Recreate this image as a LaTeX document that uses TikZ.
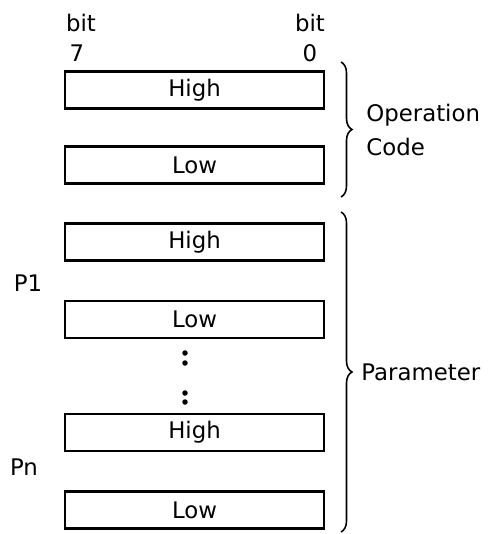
\documentclass[tikz,border=0pt]{standalone}
\usepackage{fontspec}
\setmainfont{DejaVu Sans}
\usetikzlibrary{positioning,decorations.pathreplacing}

\begin{document}
\begin{tikzpicture}[x=0.02cm, y=-0.02cm,
      font=\fontsize{13}{15}\selectfont,
      reg/.style={rectangle, draw, line width=1.4pt, minimum width=5.18cm,
      minimum height=0.74cm, inner sep=0pt},
      dotmark/.style={circle, fill, inner sep=0pt, minimum size=0.11cm},
      grp/.style={decorate, decoration={brace, amplitude=0.22cm}, line width=0.9pt},
      lbl/.style={anchor=west, align=left, inner sep=0pt,
      font=\fontsize{13}{19}\selectfont},
    ]
    \useasboundingbox (0,0) rectangle (487,534);

    % bit numbering
    \node (bitl) at (81,23) {bit};
    \node (bitr) at (310,23) {bit};
    \node (b7) at (77,53) {7};
    \node (b0) at (310,53) {0};

    % operation code bytes
    \node[reg] (oph) at (194.5,90) {High};
    \node[reg] (opl) at (194.5,165) {Low};

    % parameter bytes
    \node[reg] (p1h) at (194.5,242) {High};
    \node[reg] (p1l) at (194.5,319.5) {Low};
    \node[dotmark] (d1) at (185,353) {};
    \node[dotmark] (d2) at (185,363) {};
    \node[dotmark] (d3) at (185,393) {};
    \node[dotmark] (d4) at (185,402) {};
    \node[reg] (pnh) at (194.5,432.5) {High};
    \node[reg] (pnl) at (194.5,510) {Low};

    \node (p1) at (28,283) {P1};
    \node (pn) at (24,467) {Pn};

    % braces
    \coordinate (optop) at (341,62);
    \coordinate (opbot) at (341,197);
    \coordinate (partop) at (341,212);
    \coordinate (parbot) at (341,532);
    \draw[grp] (optop) -- (opbot);
    \draw[grp] (partop) -- (parbot);
    \node[lbl] (opcode) at (366,130) {Operation\\Code};
    \node[lbl] (param) at (361,372) {Parameter};
  \end{tikzpicture}
\end{document}
